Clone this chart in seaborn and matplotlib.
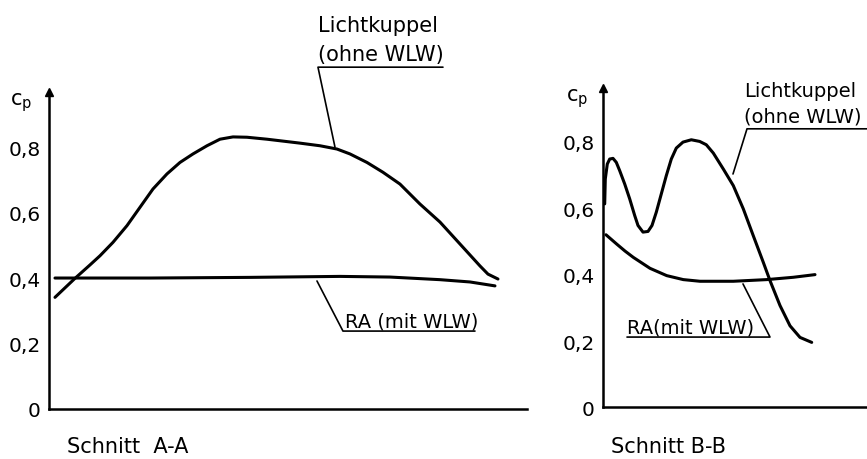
import matplotlib
matplotlib.use("Agg")
import matplotlib.pyplot as plt
import seaborn as sns
import numpy as np
import pandas as pd

sns.set_style("white")
plt.rcParams['font.family'] = ['DejaVu Sans']
plt.rcParams['font.size'] = 14
plt.rcParams['text.color'] = 'black'

# Schnitt A-A  (Position entlang des Schnitts, cp-Wert)
pos_aa_kuppel = [0.6, 2.6, 4.1, 5.1, 6.4, 7.8, 9.1, 10.4, 11.8, 13.1, 14.4,
                 15.8, 17.1, 18.4, 19.8, 21.8, 25.1, 27.1, 28.8, 30.1, 31.8,
                 33.4, 35.1, 37.1, 39.1, 41.1, 43.1, 43.9, 44.9]
cp_aa_kuppel = [0.341, 0.399, 0.440, 0.468, 0.509, 0.560, 0.616, 0.672, 0.718,
                0.753, 0.779, 0.804, 0.824, 0.831, 0.830, 0.824, 0.812, 0.804,
                0.794, 0.779, 0.753, 0.723, 0.687, 0.626, 0.571, 0.504, 0.437,
                0.412, 0.397]
pos_aa_ra = [0.6, 10.1, 20.1, 29.1, 34.1, 39.1, 42.1, 44.6]
cp_aa_ra = [0.40, 0.40, 0.402, 0.405, 0.403, 0.395, 0.388, 0.376]

# Schnitt B-B
pos_bb_kuppel = [0.17, 0.23, 0.43, 0.67, 1.0, 1.33, 1.67, 2.17, 2.67, 3.17,
                 3.5, 4.0, 4.5, 4.9, 5.33, 5.83, 6.33, 6.83, 7.33, 8.0, 8.83,
                 9.67, 10.33, 11.03, 12.03, 13.03, 14.03, 15.03, 16.03, 16.7,
                 17.7, 18.7, 19.7, 20.87]
cp_bb_kuppel = [0.613, 0.688, 0.733, 0.748, 0.750, 0.738, 0.713, 0.673, 0.628,
                0.578, 0.548, 0.528, 0.530, 0.548, 0.588, 0.643, 0.698, 0.748,
                0.781, 0.799, 0.806, 0.801, 0.791, 0.766, 0.718, 0.668, 0.598,
                0.517, 0.437, 0.382, 0.307, 0.246, 0.211, 0.196]
pos_bb_ra = [0.3, 1.37, 2.2, 3.03, 4.7, 6.37, 8.03, 9.7, 13.03, 16.37, 19.03, 21.2]
cp_bb_ra = [0.520, 0.492, 0.471, 0.452, 0.419, 0.397, 0.385, 0.380, 0.380,
            0.385, 0.392, 0.40]

yticks = [0, 0.2, 0.4, 0.6, 0.8]
ytick_labels = ["0", "0,2", "0,4", "0,6", "0,8"]

fig = plt.figure(figsize=(8.67, 4.6), dpi=100)
ax1 = fig.add_axes([0.0565, 0.1087, 0.5513, 0.689])
ax2 = fig.add_axes([0.6955, 0.112, 0.3045, 0.6946])


def style_axis(ax, xmax, ymax):
    ax.set_xlim(0, xmax)
    ax.set_ylim(0, ymax)
    for s in ["top", "right"]:
        ax.spines[s].set_visible(False)
    for s in ["left", "bottom"]:
        ax.spines[s].set_color("black")
        ax.spines[s].set_linewidth(1.8)
    ax.set_xticks([])
    ax.set_yticks(yticks)
    ax.set_yticklabels(ytick_labels)
    ax.tick_params(axis="y", direction="out", length=4, width=1.3,
                   pad=2, labelsize=14.5, colors="black")
    ax.set_xlabel("")
    ax.set_ylabel("")
    # Pfeil an der y-Achse
    ax.plot(0, 1, marker="^", color="black", ms=6, transform=ax.transAxes,
            clip_on=False)


for ax, x, y in [(ax1, pos_aa_kuppel, cp_aa_kuppel), (ax1, pos_aa_ra, cp_aa_ra),
                 (ax2, pos_bb_kuppel, cp_bb_kuppel), (ax2, pos_bb_ra, cp_bb_ra)]:
    df = pd.DataFrame({"pos": x, "cp": y})
    sns.lineplot(data=df, x="pos", y="cp", ax=ax, color="black", lw=2.2,
                 sort=False, estimator=None)
    ax.lines[-1].set_solid_joinstyle("round")
    ax.lines[-1].set_solid_capstyle("round")

style_axis(ax1, 47.8, 0.968)
style_axis(ax2, 26.4, 0.962)

lead = dict(color="black", lw=1.2, clip_on=False)

# Beschriftungen Schnitt A-A
ax1.text(26.9, 1.154, "Lichtkuppel", ha="left", va="baseline", fontsize=15)
ax1.text(26.9, 1.066, "(ohne WLW)", ha="left", va="baseline", fontsize=15)
ax1.plot([28.6, 26.9, 39.4], [0.80, 1.044, 1.044], **lead)
ax1.text(29.6, 0.252, "RA (mit WLW)", ha="left", va="baseline", fontsize=14)
ax1.plot([26.8, 29.4, 42.6], [0.391, 0.238, 0.238], **lead)
ax1.text(-3.9, 0.93, "c$_{\\mathrm{p}}$", ha="left", va="baseline", fontsize=15)

# Beschriftungen Schnitt B-B
ax2.text(14.1, 0.938, "Lichtkuppel", ha="left", va="baseline", fontsize=14)
ax2.text(14.1, 0.86, "(ohne WLW)", ha="left", va="baseline", fontsize=14)
ax2.plot([13.0, 14.4, 26.4], [0.703, 0.839, 0.839], **lead)
ax2.text(2.4, 0.227, "RA(mit WLW)", ha="left", va="baseline", fontsize=14)
ax2.plot([14.0, 16.7, 2.4], [0.372, 0.212, 0.212], **lead)
ax2.text(-3.7, 0.926, "c$_{\\mathrm{p}}$", ha="left", va="baseline", fontsize=15)

fig.text(67 / 867, 1 - 453 / 460, "Schnitt  A-A", fontsize=15, va="baseline")
fig.text(611 / 867, 1 - 453 / 460, "Schnitt B-B", fontsize=15, va="baseline")

fig.savefig("out.png", dpi=100, facecolor="white")
